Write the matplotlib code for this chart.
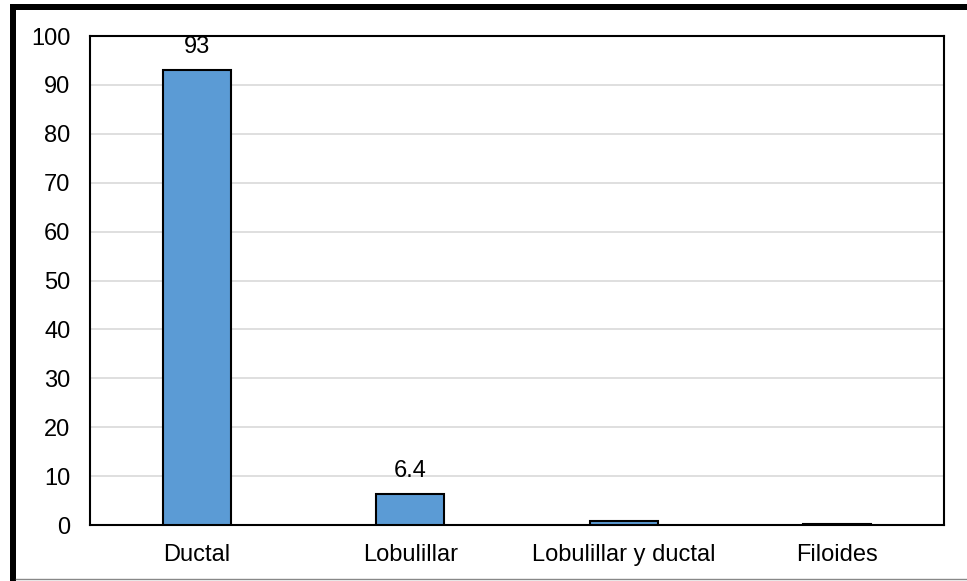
import matplotlib
matplotlib.use("Agg")
import matplotlib.pyplot as plt
from matplotlib.patches import Rectangle
from matplotlib.lines import Line2D

categories = ["Ductal", "Lobulillar", "Lobulillar y ductal", "Filoides"]
values = [93, 6.4, 0.8, 0.3]
labels = ["93", "6.4", "", ""]
yticks = [0, 10, 20, 30, 40, 50, 60, 70, 80, 90, 100]

plt.rcParams['font.family'] = ['Liberation Sans', 'DejaVu Sans']

W, H = 967, 581
fig = plt.figure(figsize=(W/100, H/100), dpi=100)
fig.patch.set_facecolor('white')
ax = fig.add_axes([90/W, 1-525/H, (944-90)/W, (525-36)/H])

x = range(len(categories))
ax.bar(x, values, width=0.32, color='#5B9BD5', edgecolor='black', linewidth=1.5, zorder=3)
for xi, v, lab in zip(x, values, labels):
    if lab:
        ax.text(xi, v + 2.4, lab, ha='center', va='bottom', fontsize=17)

ax.set_ylim(0, 100)
ax.set_xlim(-0.5, 3.5)
ax.set_yticks(yticks)
ax.set_xticks(list(x))
ax.set_xticklabels(categories)
ax.tick_params(axis='both', length=0, labelsize=17)
ax.tick_params(axis='y', pad=14)
ax.tick_params(axis='x', pad=14)
ax.grid(axis='y', color='#d9d9d9', linewidth=1.2, zorder=0)
for s in ax.spines.values():
    s.set_color('black')
    s.set_linewidth(1.5)

# outer frame
fig.add_artist(Rectangle((10/W, 0), 6/W, 1-4/H, transform=fig.transFigure, color='black', lw=0))
fig.add_artist(Rectangle((10/W, 1-10/H), 1-10/W, 6/H, transform=fig.transFigure, color='black', lw=0))
fig.add_artist(Line2D([16/W, 1], [1-579/H, 1-579/H], transform=fig.transFigure, color='#888888', lw=1))

fig.savefig("out.png", dpi=100)
